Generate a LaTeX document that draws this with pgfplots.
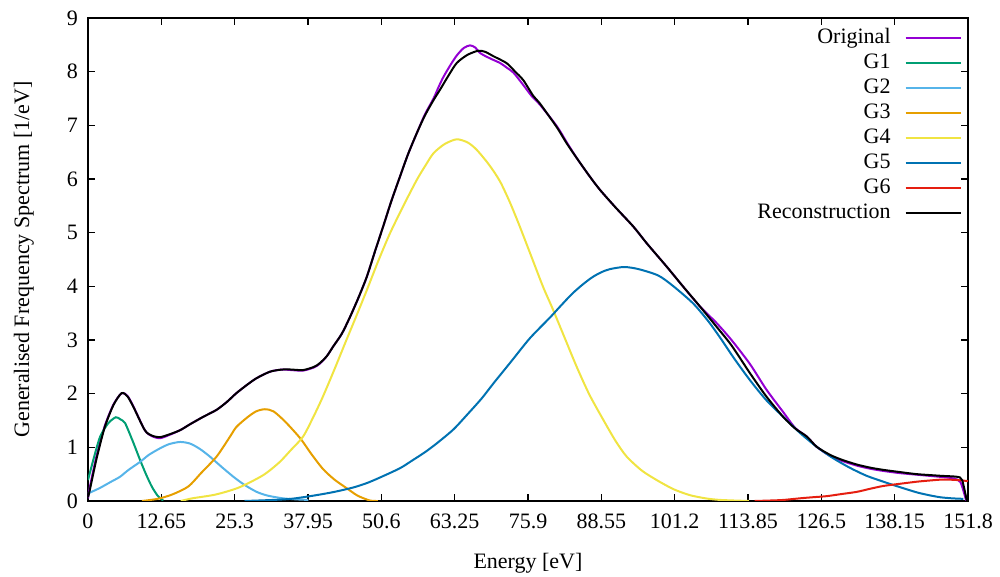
\documentclass[border=0pt]{standalone}
\usepackage{fontspec}
\setmainfont{Liberation Serif}
\usepackage{pgfplots}
\pgfplotsset{compat=1.18}
\usetikzlibrary{calc}
\definecolor{gOrig}{HTML}{9400D3}
\definecolor{gOne}{HTML}{009E73}
\definecolor{gTwo}{HTML}{56B4E9}
\definecolor{gThree}{HTML}{E69F00}
\definecolor{gFour}{HTML}{F0E442}
\definecolor{gFive}{HTML}{0072B2}
\definecolor{gSix}{HTML}{E51E10}
\newcommand{\txt}{\fontsize{11}{13}\selectfont}
\begin{document}
\begin{tikzpicture}
\begin{axis}[name=ax, scale only axis, width=440pt, height=241.5pt,
  xmin=0, xmax=151.8, ymin=0, ymax=9,
  axis line style={line width=1pt}, tick style={black, line width=0.8pt},
  major tick length=3.5pt, tick align=inside, tick pos=both,
  xtick={0,12.65,25.3,37.95,50.6,63.25,75.9,88.55,101.2,113.85,126.5,139.15,151.8},
  xticklabels={0,12.65,25.3,37.95,50.6,63.25,75.9,88.55,101.2,113.85,126.5,138.15,151.8},
  ytick={0,1,...,9},
  /pgf/number format/assume math mode=true,
  tick label style={font=\txt},
  x tick label style={yshift=-3pt},
  y tick label style={xshift=-1.5pt},
  xlabel={Energy [eV]}, ylabel={Generalised Frequency Spectrum [1/eV]},
  label style={font=\txt},
  xlabel style={at={(axis description cs:0.5,-0.128)}, anchor=center},
  ylabel style={at={(axis description cs:-0.073,0.5)}, anchor=center},
  legend plot pos=right, legend cell align=right,
  legend image code/.code={\draw[#1] (0pt,0pt) -- (27.5pt,0pt);},
  legend style={draw=none, fill=none, font=\txt, inner sep=0pt, row sep=0pt,
    column sep=6pt, at={(axis description cs:1,1)}, anchor=north east,
    xshift=-3pt, yshift=-3.75pt,
    nodes={text height=8pt, text depth=2.5pt, inner sep=1pt}},
  every axis plot/.append style={line width=1pt, smooth, tension=0.45}
]
\addplot[gOrig] coordinates {(0,0.05) (0.3,0.25) (1.5,0.85) (2.9,1.40) (4.4,1.80) (5.8,2.01) (6.8,1.96) (7.8,1.77) (9.8,1.32) (11,1.21) (12.4,1.17) (14,1.23) (15.9,1.32) (17.6,1.43) (19.9,1.57) (22.2,1.70) (24,1.85) (25.6,2.01) (27.5,2.17) (29.1,2.29) (31.4,2.41) (33.5,2.45) (35,2.44) (37.1,2.43) (39,2.49) (40,2.56) (41.2,2.70) (42.3,2.88) (43.8,3.12) (45.2,3.43) (46.7,3.80) (48.1,4.18) (49.5,4.65) (50.9,5.11) (52.3,5.58) (53.8,6.04) (55.2,6.46) (56.7,6.85) (58.1,7.20) (59.6,7.50) (60.5,7.72) (61.3,7.90) (62.5,8.12) (63.6,8.30) (64.8,8.44) (65.9,8.49) (66.8,8.45) (67.5,8.36) (68.2,8.31) (69.5,8.24) (71.1,8.16) (72.3,8.07) (73.4,7.98) (75.1,7.75) (76.5,7.55) (78,7.38) (80.9,6.98) (82.6,6.68) (84.5,6.36) (86.6,6.04) (88.3,5.80) (91,5.47) (94.1,5.11) (96.4,4.80) (99.8,4.37) (102.7,3.99) (105.6,3.62) (108.4,3.32) (111,3.00) (114.2,2.55) (117,2.08) (119.9,1.66) (122,1.36) (124,1.20) (125.7,1.01) (128,0.84) (130,0.75) (132.6,0.66) (135,0.60) (137.2,0.56) (140,0.52) (143,0.49) (147,0.45) (149.3,0.42) (150.5,0.35) (151.5,0)};
\addlegendentry{Original}
\addplot[gOne] coordinates {(0,0.39) (1,0.80) (2.1,1.20) (3.5,1.45) (4.8,1.56) (5.6,1.52) (6.4,1.45) (7.7,1.12) (9.0,0.76) (10,0.50) (11,0.27) (12,0.10) (12.7,0.03) (13,0.01)};
\addlegendentry{G1}
\addplot[gTwo] coordinates {(0,0.14) (2,0.24) (4,0.36) (5.5,0.45) (7,0.58) (9,0.73) (10.5,0.86) (12.4,0.98) (14,1.06) (15.9,1.10) (17.6,1.07) (19.3,0.97) (21,0.83) (23,0.64) (25.1,0.45) (27,0.30) (29.1,0.17) (31,0.10) (33.6,0.05) (36,0.03) (38,0.02)};
\addlegendentry{G2}
\addplot[gThree] coordinates {(9.3,0) (12,0.04) (14.5,0.12) (17.3,0.27) (19.5,0.52) (22.2,0.83) (24.5,1.20) (25.6,1.38) (27.5,1.56) (29,1.67) (30.5,1.71) (32,1.67) (34,1.48) (36.6,1.17) (38.5,0.88) (40.5,0.60) (42.5,0.40) (44.6,0.24) (46.5,0.10) (48.6,0.01) (50,0)};
\addlegendentry{G3}
\addplot[gFour] coordinates {(16,0) (18,0.05) (22,0.12) (26,0.25) (30.2,0.48) (33,0.72) (35,0.95) (37.1,1.20) (38.8,1.55) (40.5,1.94) (42.5,2.45) (44.5,2.98) (46.3,3.45) (48.1,3.93) (50.1,4.48) (52.1,4.99) (54.4,5.50) (56.7,5.98) (58.2,6.25) (59.6,6.48) (61.5,6.65) (63.6,6.74) (65.5,6.68) (67,6.55) (68.8,6.32) (70,6.14) (71.2,5.93) (72.8,5.56) (74.5,5.11) (76.5,4.55) (78.5,3.99) (80,3.62) (82,3.10) (84.3,2.50) (86.5,1.98) (88.9,1.51) (91,1.12) (92.9,0.83) (95.5,0.57) (98.1,0.39) (101,0.22) (103.8,0.11) (106.5,0.05) (109,0.02) (114,0)};
\addlegendentry{G4}
\addplot[gFive] coordinates {(27,0) (32,0.02) (35,0.04) (37.7,0.08) (40,0.12) (42.5,0.17) (45.7,0.25) (48,0.33) (50,0.42) (53.8,0.61) (56,0.76) (58,0.90) (60,1.06) (63,1.33) (65.5,1.62) (67.9,1.91) (70,2.20) (73,2.60) (76.2,3.03) (79.7,3.42) (81.4,3.62) (83.5,3.86) (85.4,4.04) (87,4.17) (88.5,4.26) (90,4.32) (92.5,4.36) (95,4.32) (98.4,4.20) (101,4.00) (104.4,3.68) (107,3.35) (109,3.05) (111.5,2.65) (114.2,2.25) (117,1.88) (119.9,1.57) (122.8,1.27) (125.7,1.01) (128.5,0.80) (131.4,0.62) (134.3,0.47) (137.2,0.36) (140,0.26) (143,0.16) (145,0.11) (147,0.07) (149,0.05) (151,0.04)};
\addlegendentry{G5}
\addplot[gSix] coordinates {(115,0) (117.9,0.01) (120,0.02) (122.8,0.05) (125,0.07) (127.4,0.09) (130,0.13) (132.6,0.17) (135,0.23) (137.2,0.28) (140,0.32) (143,0.36) (145,0.38) (147.5,0.40) (150,0.39) (151.8,0.37)};
\addlegendentry{G6}
\addplot[black] coordinates {(0,0.07) (0.3,0.20) (1.5,0.80) (2.9,1.38) (4.4,1.79) (5.8,2.01) (6.8,1.95) (7.8,1.76) (9.8,1.32) (11,1.22) (12.4,1.19) (14,1.24) (15.9,1.32) (17.6,1.43) (19.9,1.57) (22.2,1.70) (24,1.85) (25.6,2.01) (27.5,2.17) (29.1,2.29) (31.4,2.41) (33.5,2.45) (35,2.45) (37.1,2.44) (39,2.50) (40,2.57) (41.2,2.70) (42.3,2.88) (43.8,3.12) (45.2,3.43) (46.7,3.80) (48.1,4.18) (49.5,4.65) (50.9,5.11) (52.3,5.58) (53.8,6.04) (55.2,6.46) (56.7,6.85) (58.1,7.18) (59.6,7.47) (60.7,7.66) (62.2,7.93) (63.6,8.16) (65.4,8.31) (67.3,8.39) (68.5,8.37) (69.9,8.29) (72.2,8.16) (73.6,8.01) (75.1,7.84) (76.8,7.55) (78,7.40) (80.9,6.96) (82.6,6.66) (84.5,6.36) (86.6,6.04) (88.3,5.80) (91,5.47) (94.1,5.11) (96.4,4.80) (99.8,4.37) (102.7,3.99) (105.6,3.62) (108.4,3.25) (111,2.90) (114.2,2.38) (117,1.95) (119.9,1.57) (122,1.35) (124,1.20) (125.7,1.01) (128,0.86) (130,0.77) (132.6,0.68) (135,0.62) (137.2,0.58) (140,0.54) (143,0.50) (147,0.47) (150.4,0.44) (151,0.30) (151.6,0)};
\addlegendentry{Reconstruction}
\end{axis}
\pgfresetboundingbox
\path ($(ax.south west)+(-44pt,-38pt)$) rectangle ($(ax.north east)+(16pt,9pt)$);
\end{tikzpicture}
\end{document}
